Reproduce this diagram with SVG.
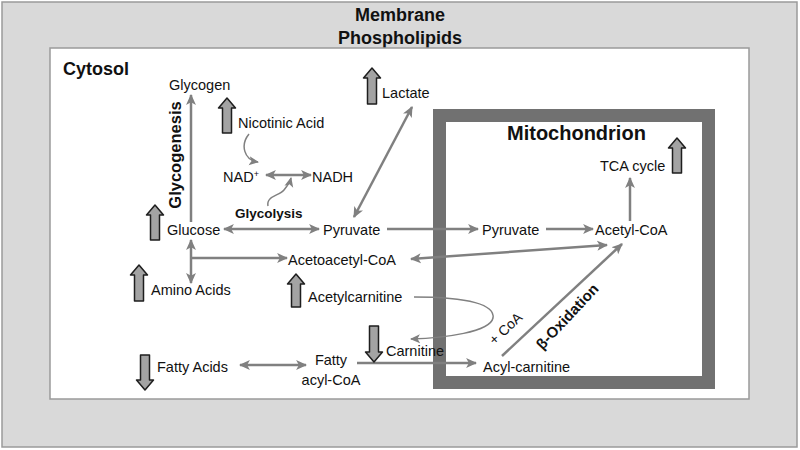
<svg xmlns="http://www.w3.org/2000/svg" width="800" height="450" viewBox="0 0 800 450">
<defs>
<style>
text{font-family:"Liberation Sans",Arial,sans-serif;fill:#111;}
.t{font-size:14.5px;}
.b{font-weight:bold;}
.c{fill:none;stroke:#808080;stroke-width:2.5;}
.thin{fill:none;stroke:#808080;stroke-width:1.5;}
.blk{fill:#a3a3a3;stroke:#1e1e1e;stroke-width:1.5;stroke-linejoin:round;}
</style>
<marker id="ah" viewBox="0 0 10 10" markerUnits="userSpaceOnUse" markerWidth="11" markerHeight="11" refX="9" refY="5" orient="auto-start-reverse">
<path d="M0,0.5 L10,5 L0,9.5 L2.5,5 z" fill="#808080"/>
</marker>
<marker id="ahs" viewBox="0 0 10 10" markerUnits="userSpaceOnUse" markerWidth="10" markerHeight="10" refX="9" refY="5" orient="auto-start-reverse">
<path d="M0,0.5 L10,5 L0,9.5 L2.5,5 z" fill="#808080"/>
</marker>
</defs>

<g id="membrane">
<rect x="2" y="2" width="795" height="445" fill="#d9d9d9" stroke="#9a9a9a" stroke-width="1.5"/>
<text class="b" x="400" y="21" font-size="18" text-anchor="middle">Membrane</text>
<text class="b" x="400" y="44" font-size="18" text-anchor="middle">Phospholipids</text>
</g>

<g id="cytosol">
<rect x="50" y="48" width="699" height="351" fill="#ffffff" stroke="#9a9a9a" stroke-width="1.5"/>
<text class="b" x="63" y="75" font-size="18">Cytosol</text>
</g>

<g id="mitochondrion">
<rect x="439.5" y="115.5" width="269" height="267" fill="none" stroke="#717171" stroke-width="13"/>
<text class="b" x="507" y="140" font-size="20">Mitochondrion</text>
</g>

<g id="connectors">
<path class="c" d="M191,222 V95" marker-end="url(#ah)"/>
<path class="c" d="M224,229 H319" marker-start="url(#ah)" marker-end="url(#ah)"/>
<path class="c" d="M191,240 V283" marker-start="url(#ah)" marker-end="url(#ah)"/>
<path class="c" d="M191,258 H287" marker-end="url(#ah)"/>
<path class="c" d="M354,217 L412,107" marker-start="url(#ah)" marker-end="url(#ah)"/>
<path class="c" d="M387,229 H478" marker-end="url(#ah)"/>
<path class="c" d="M546,229 H593" marker-end="url(#ah)"/>
<path class="c" d="M630,221 V178" marker-end="url(#ah)"/>
<path class="c" d="M411,259 L607,245" marker-start="url(#ah)" marker-end="url(#ah)"/>
<path class="c" d="M502,356 L622,244" marker-end="url(#ah)"/>
<path class="c" d="M240,365 H306" marker-start="url(#ah)" marker-end="url(#ah)"/>
<path class="c" d="M357,363 H476" marker-end="url(#ah)"/>
<path class="c" d="M266,175 H311" marker-start="url(#ah)" marker-end="url(#ah)"/>
<path class="thin" d="M414,297 C470,297 495,305 493,318 C490,332 445,338 411,339" marker-end="url(#ahs)"/>
<path class="thin" d="M249,134 C240,145 244,160 258,162" marker-end="url(#ahs)"/>
<path class="thin" d="M268,206 C266,196 279,196 284,190 C288,185 290,182 291,178" marker-end="url(#ahs)"/>
</g>

<g id="glycogen"><text class="t" x="169" y="90">Glycogen</text></g>
<g id="glycogenesis"><text class="b" font-size="16.5" transform="translate(181,155) rotate(-90)" text-anchor="middle">Glycogenesis</text></g>
<g id="nicotinic-acid">
<path class="blk" d="M227,98 L235.5,108 L231.5,108 L231.5,133 L222.5,133 L222.5,108 L218.5,108 Z"/>
<text class="t" x="238" y="128">Nicotinic Acid</text>
</g>
<g id="lactate">
<path class="blk" d="M372,68 L380.5,78 L376.5,78 L376.5,104 L367.5,104 L367.5,78 L363.5,78 Z"/>
<text class="t" x="382" y="98">Lactate</text>
</g>
<g id="nad"><text class="t" x="223" y="182">NAD<tspan font-size="9" dy="-5">+</tspan></text></g>
<g id="nadh"><text class="t" x="312" y="182">NADH</text></g>
<g id="glycolysis"><text class="b" font-size="13.5" x="235" y="218">Glycolysis</text></g>
<g id="glucose">
<path class="blk" d="M155,205 L163.5,215 L159.5,215 L159.5,240 L150.5,240 L150.5,215 L146.5,215 Z"/>
<text class="t" x="167" y="235">Glucose</text>
</g>
<g id="pyruvate-cyto"><text class="t" x="323" y="235">Pyruvate</text></g>
<g id="acetoacetyl-coa"><text class="t" x="288" y="265">Acetoacetyl-CoA</text></g>
<g id="amino-acids">
<path class="blk" d="M139,265 L147.5,275 L143.5,275 L143.5,301 L134.5,301 L134.5,275 L130.5,275 Z"/>
<text class="t" x="151" y="295">Amino Acids</text>
</g>
<g id="acetylcarnitine">
<path class="blk" d="M296,274 L304.5,284 L300.5,284 L300.5,307 L291.5,307 L291.5,284 L287.5,284 Z"/>
<text class="t" x="308" y="302">Acetylcarnitine</text>
</g>
<g id="carnitine">
<path class="blk" d="M374,362 L382.5,352 L378.5,352 L378.5,326 L369.5,326 L369.5,352 L365.5,352 Z"/>
<text class="t" x="386" y="356">Carnitine</text>
</g>
<g id="fatty-acids">
<path class="blk" d="M145,390 L153.5,380 L149.5,380 L149.5,355 L140.5,355 L140.5,380 L136.5,380 Z"/>
<text class="t" x="157" y="372">Fatty Acids</text>
</g>
<g id="fatty-acyl-coa">
<text class="t" x="331" y="365" text-anchor="middle">Fatty</text>
<text class="t" x="331" y="385" text-anchor="middle">acyl-CoA</text>
</g>
<g id="acyl-carnitine"><text class="t" x="483" y="372">Acyl-carnitine</text></g>
<g id="pyruvate-mito"><text class="t" x="482" y="235">Pyruvate</text></g>
<g id="acetyl-coa"><text class="t" x="595" y="235">Acetyl-CoA</text></g>
<g id="tca-cycle">
<text class="t" x="600" y="171">TCA cycle</text>
<path class="blk" d="M677,138 L685.5,148 L681.5,148 L681.5,173 L672.5,173 L672.5,148 L668.5,148 Z"/>
</g>
<g id="beta-oxidation"><text class="b" font-size="15" transform="translate(571,320) rotate(-47)" text-anchor="middle">β-Oxidation</text></g>
<g id="plus-coa"><text font-size="14" transform="translate(509,332) rotate(-43)" text-anchor="middle">+ CoA</text></g>
</svg>
